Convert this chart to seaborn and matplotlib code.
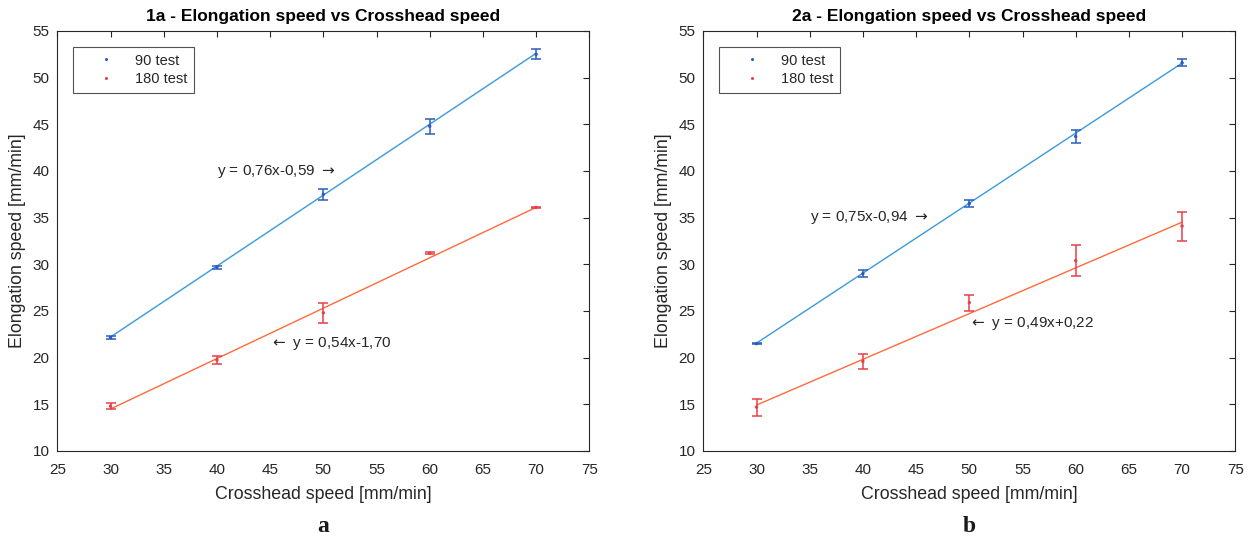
import numpy as np
import pandas as pd
import matplotlib
matplotlib.use("Agg")
import matplotlib.pyplot as plt
import seaborn as sns

# ---- data ----
crosshead = [30, 40, 50, 60, 70]

a_90_mean = [22.15, 29.7, 37.5, 44.8, 52.5]
a_90_err = [0.15, 0.15, 0.6, 0.8, 0.55]
a_180_mean = [14.8, 19.75, 24.8, 31.2, 36.1]
a_180_err = [0.35, 0.4, 1.05, 0.08, 0.08]

b_90_mean = [21.5, 29.0, 36.5, 43.7, 51.6]
b_90_err = [0.08, 0.35, 0.35, 0.65, 0.4]
b_180_mean = [14.7, 19.6, 25.9, 30.4, 34.1]
b_180_err = [0.9, 0.8, 0.85, 1.7, 1.55]

fit_a_90 = (0.76, -0.59)
fit_a_180 = (0.54, -1.70)
fit_b_90 = (0.75, -0.94)
fit_b_180 = (0.49, 0.22)

titles = ["1a - Elongation speed vs Crosshead speed", "2a - Elongation speed vs Crosshead speed"]
eq_a = ["y = 0,76x-0,59 $\\rightarrow$", "$\\leftarrow$ y = 0,54x-1,70"]
eq_b = ["y = 0,75x-0,94 $\\rightarrow$", "$\\leftarrow$ y = 0,49x+0,22"]
eq_pos_a = [(40, 40), (45, 21.5)]
eq_pos_b = [(35, 35), (50, 23.7)]
sublabels = ["a", "b"]
legend_labels = ["90 test", "180 test"]
x_ticks = [25, 30, 35, 40, 45, 50, 55, 60, 65, 70, 75]
y_ticks = [10, 15, 20, 25, 30, 35, 40, 45, 50, 55]

# ---- style ----
sns.set_theme(style="white")
plt.rcParams["font.family"] = ["Liberation Sans", "DejaVu Sans"]
plt.rcParams["mathtext.fontset"] = "dejavusans"
plt.rcParams["text.color"] = "#262626"
plt.rcParams["axes.labelcolor"] = "#262626"
plt.rcParams["xtick.color"] = "#262626"
plt.rcParams["ytick.color"] = "#262626"

ERR_BLUE = "#2a5cbf"
FIT_BLUE = "#3a9ad9"
ERR_RED = "#e8404a"
FIT_RED = "#ff6a3a"

W, H = 1251, 539
fig = plt.figure(figsize=(W / 100, H / 100), dpi=100)
ax_w, ax_h = 532 / W, 420 / H
bottom = (H - 451) / H
axes = [fig.add_axes([57.3 / W, bottom, ax_w, ax_h]),
        fig.add_axes([703.3 / W, bottom, ax_w, ax_h])]

panels = [
    (a_90_mean, a_90_err, a_180_mean, a_180_err, fit_a_90, fit_a_180, eq_a, eq_pos_a),
    (b_90_mean, b_90_err, b_180_mean, b_180_err, fit_b_90, fit_b_180, eq_b, eq_pos_b),
]

for i, (ax, p) in enumerate(zip(axes, panels)):
    m90, e90, m180, e180, f90, f180, eqs, eqpos = p
    x = np.array(crosshead, dtype=float)
    df = pd.DataFrame({
        "x": list(x) * 2,
        "y": list(m90) + list(m180),
        "series": [legend_labels[0]] * 5 + [legend_labels[1]] * 5,
    })
    # fitted lines from the printed equations
    fit_df = pd.DataFrame({
        "x": list(x) * 2,
        "y": list(f90[0] * x + f90[1]) + list(f180[0] * x + f180[1]),
        "series": ["f90"] * 5 + ["f180"] * 5,
    })
    sns.lineplot(data=fit_df, x="x", y="y", hue="series",
                 palette={"f90": FIT_BLUE, "f180": FIT_RED},
                 linewidth=1.0, legend=False, ax=ax, zorder=2)
    ax.errorbar(x, m90, yerr=e90, fmt="none", ecolor=ERR_BLUE, elinewidth=1.1,
                capsize=3.5, capthick=1.1, zorder=3)
    ax.errorbar(x, m180, yerr=e180, fmt="none", ecolor=ERR_RED, elinewidth=1.1,
                capsize=3.5, capthick=1.1, zorder=3)
    sns.scatterplot(data=df, x="x", y="y", hue="series",
                    palette={legend_labels[0]: ERR_BLUE, legend_labels[1]: ERR_RED},
                    s=6, edgecolor="none", ax=ax, zorder=4)

    for txt, (tx, ty) in zip(eqs, eqpos):
        ax.text(tx, ty, txt, fontsize=11, ha="left", va="center", color="#262626")

    ax.set_xlim(25, 75)
    ax.set_ylim(10, 55)
    ax.set_xticks(x_ticks)
    ax.set_yticks(y_ticks)
    ax.tick_params(axis="both", which="both", direction="in", length=4, width=0.8,
                   top=True, right=True, labelsize=11)
    ax.tick_params(axis="x", pad=9)
    ax.tick_params(axis="y", pad=5.5)
    for s in ax.spines.values():
        s.set_visible(True)
        s.set_color("#262626")
        s.set_linewidth(0.8)
    ax.set_xlabel("Crosshead speed [mm/min]", fontsize=12.8, labelpad=6)
    ax.set_ylabel("Elongation speed [mm/min]", fontsize=12.8, labelpad=5)
    ax.set_title(titles[i], fontsize=12.5, fontweight="bold", pad=7, color="black")

    handles, labels = ax.get_legend_handles_labels()
    leg = ax.legend(handles, labels, loc="upper left",
                    bbox_to_anchor=(16 / 532, 1 - 16 / 420), borderaxespad=0,
                    fontsize=10.5, frameon=True, fancybox=False, edgecolor="#262626",
                    handlelength=3.6, handletextpad=0.2, borderpad=0.45,
                    labelspacing=0.3, markerscale=0.9)
    leg.get_frame().set_linewidth(0.8)

    fig.text((57.3 + 646 * i + 266) / W, 1 - 526 / H, sublabels[i],
             fontsize=17, fontweight="bold", ha="center", va="center",
             family=["Liberation Serif", "DejaVu Serif"], color="#1a1a1a")

fig.savefig("out.png", dpi=100)
